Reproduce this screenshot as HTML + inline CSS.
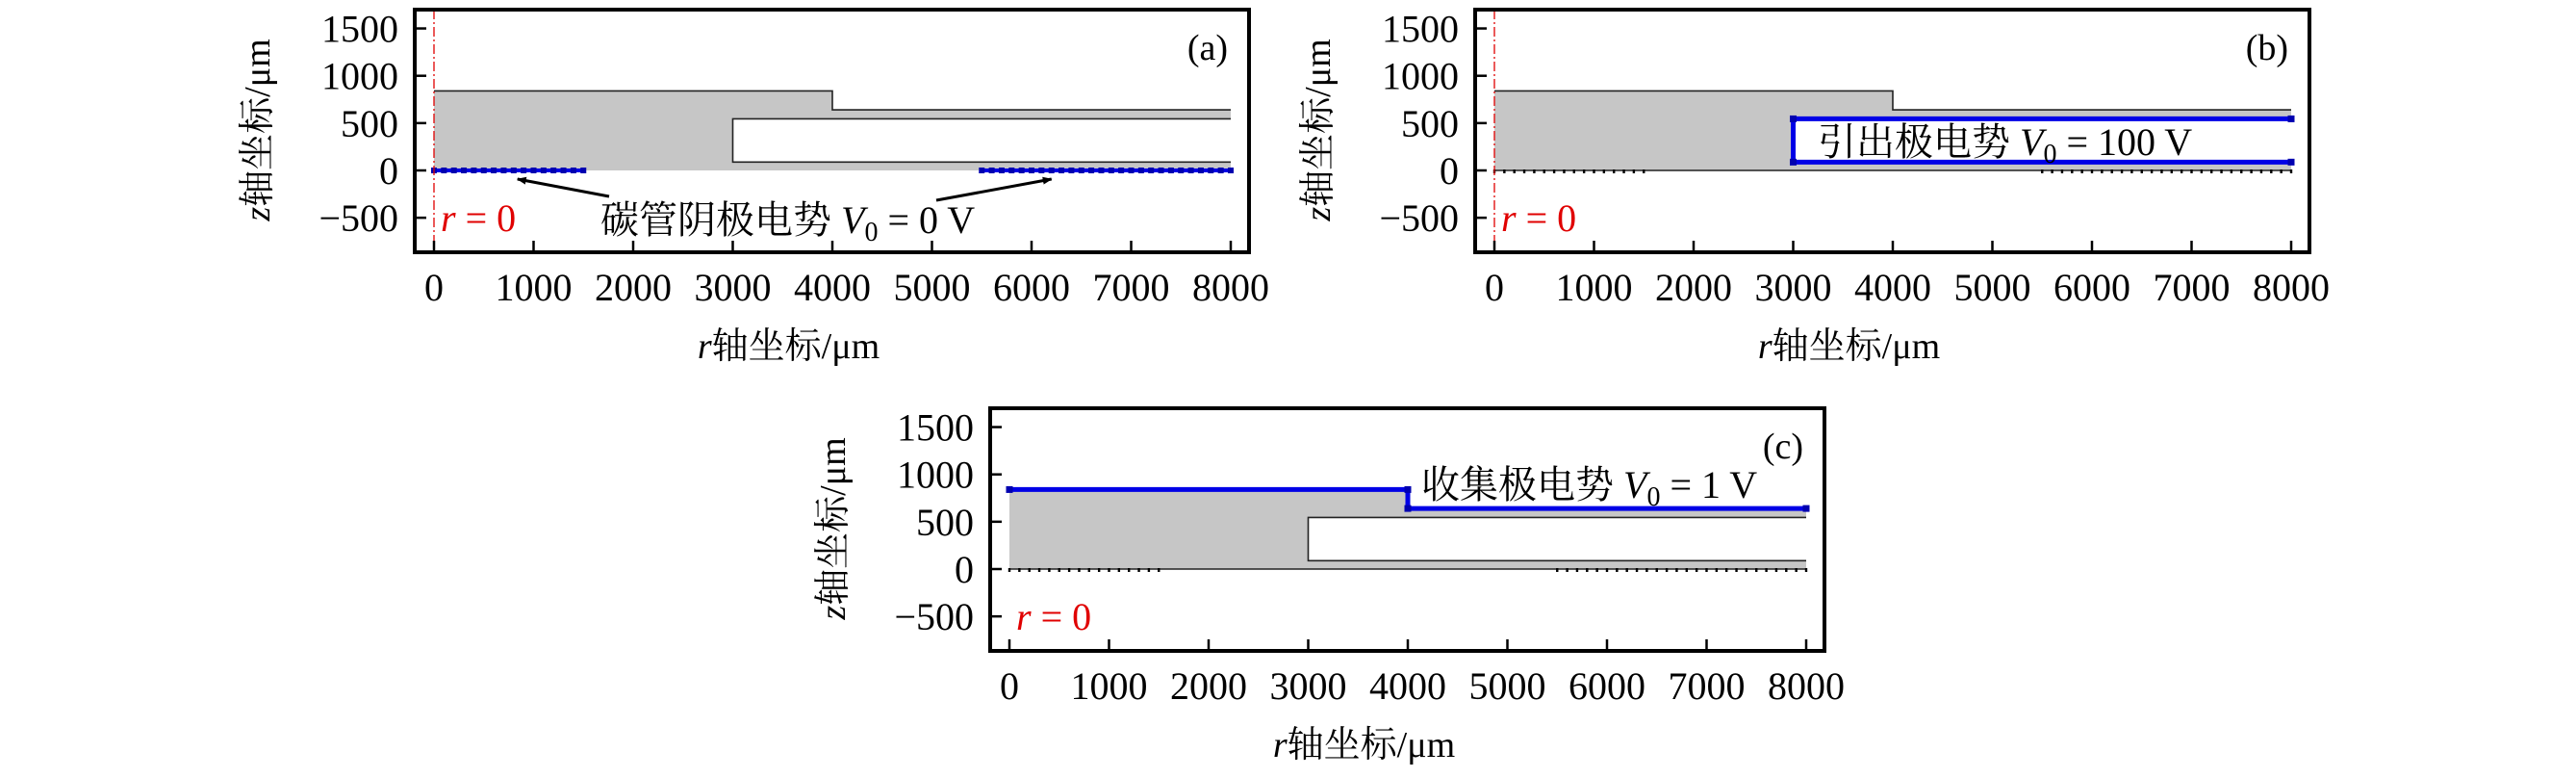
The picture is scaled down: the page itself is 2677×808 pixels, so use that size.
<!DOCTYPE html>
<html><head><meta charset="utf-8"><style>
body{margin:0;background:#fff}
svg text{font-family:"Liberation Serif","Noto Serif CJK SC","Noto Sans CJK SC",serif}
</style></head><body>
<svg id="fig" width="2677" height="803" viewBox="0 0 2677 803" xmlns="http://www.w3.org/2000/svg">
<defs>
<marker id="ah" markerWidth="10" markerHeight="8" refX="9" refY="4" orient="auto" markerUnits="userSpaceOnUse" viewBox="0 0 10 8"><path d="M0,0 L10,4 L0,8 Z" fill="#000"/></marker>
</defs>
</svg>
<script>
// ---- data ----
const xTicks = [0,1000,2000,3000,4000,5000,6000,7000,8000];
const yTicks = [-500,0,500,1000,1500];
const outerR = [0,4000,4000,8000];
const outerZ = [840,840,640,640];
const innerR = [3000,8000];
const innerZ = [88,545];
const cathodeR = [[0,1500],[5500,8000]];
const panelIds = ['a','b','c'];
const panelLeft = [431,1533,1029];
const panelTop = [10,10,424];
const labels = ['碳管阴极电势 ','引出极电势 ','收集极电势 '];
const volts = ['0','100','1'];

const NS='http://www.w3.org/2000/svg';
const svg=document.getElementById('fig');
function mk(tag,attrs,parent){const e=document.createElementNS(NS,tag);for(const k in attrs)e.setAttribute(k,attrs[k]);(parent||svg).appendChild(e);return e;}

panelIds.forEach((id,pi)=>{
  const L=panelLeft[pi],T=panelTop[pi],W=867,H=252;
  const x0=L+20, kx=103.5/1000;
  const y0=T+167, ky=98.3/1000;
  const X=r=>x0+r*kx, Y=z=>y0-z*ky;
  const g=mk('g',{});
  
  

  const d='M'+X(0)+','+Y(0)+' L'+X(0)+','+Y(outerZ[0])+' L'+X(outerR[1])+','+Y(outerZ[1])+' L'+X(outerR[2])+','+Y(outerZ[2])+' L'+X(outerR[3])+','+Y(outerZ[3])+' L'+X(8000)+','+Y(innerZ[1])+' L'+X(innerR[0])+','+Y(innerZ[1])+' L'+X(innerR[0])+','+Y(innerZ[0])+' L'+X(8000)+','+Y(innerZ[0])+' L'+X(8000)+','+Y(0)+' Z';
  const reg=mk('path',{d:d,fill:'#c6c6c6',stroke:'none'},g);
  
  

  let od='M'+X(0)+','+Y(outerZ[0]);
  for(let i=1;i<outerR.length;i++) od+=' L'+X(outerR[i])+','+Y(outerZ[i]);
  const ol=mk('path',{d:od,fill:'none',stroke:'#222','stroke-width':1.6},g);
  
  
  const il=mk('path',{d:'M'+X(innerR[1])+','+Y(innerZ[1])+' L'+X(innerR[0])+','+Y(innerZ[1])+' L'+X(innerR[0])+','+Y(innerZ[0])+' L'+X(innerR[1])+','+Y(innerZ[0]),fill:'none',stroke:'#222','stroke-width':1.6},g);
  
  
  if(id!=='a'){
    const zl=mk('line',{x1:X(0),y1:Y(0),x2:X(8000),y2:Y(0),stroke:'#222','stroke-width':1.6},g);
    
    
  }
  cathodeR.forEach(([a,b])=>{
    if(id==='a'){
      const cl=mk('line',{x1:X(a),y1:Y(0),x2:X(b),y2:Y(0),stroke:'#0000e6','stroke-width':4},g);
      
      
      for(let r=a;r<=b+1;r+=100){mk('rect',{x:X(r)-3,y:Y(0)-3,width:6,height:6,fill:'#0000b0'},g);}
    } else {
      for(let r=a;r<=b+1;r+=100){mk('rect',{x:X(r)-1.2,y:Y(0)-1,width:2.4,height:4,fill:'#000'},g);}
    }
  });
  if(id==='b'){
    const bl=mk('path',{d:'M'+X(8000)+','+Y(innerZ[1])+' L'+X(innerR[0])+','+Y(innerZ[1])+' L'+X(innerR[0])+','+Y(innerZ[0])+' L'+X(8000)+','+Y(innerZ[0]),fill:'none',stroke:'#0000e6','stroke-width':5},g);
    
    
    [[innerR[0],innerZ[1]],[innerR[0],innerZ[0]],[8000,innerZ[1]],[8000,innerZ[0]]].forEach(p=>mk('rect',{x:X(p[0])-3.5,y:Y(p[1])-3.5,width:7,height:7,fill:'#0000b0'},g));
  }
  if(id==='c'){
    let cd='M'+X(0)+','+Y(outerZ[0]);
    for(let i=1;i<outerR.length;i++) cd+=' L'+X(outerR[i])+','+Y(outerZ[i]);
    const cl=mk('path',{d:cd,fill:'none',stroke:'#0000e6','stroke-width':5},g);
    
    
    outerR.forEach((r,i)=>mk('rect',{x:X(r)-3.5,y:Y(outerZ[i])-3.5,width:7,height:7,fill:'#0000b0'},g));
  }
  if(id!=='c'){
    const rl=mk('line',{x1:X(0),y1:T,x2:X(0),y2:T+H,stroke:'#e00000','stroke-width':1.3,'stroke-dasharray':'10,3,2,3'},g);
    
    
  }
  const rt=mk('text',{x:X(0)+7,y:Y(-500)+14,'font-size':40,fill:'#e00000'},g);
  
  
  rt.innerHTML='<tspan font-style="italic">r</tspan> = 0';

  const fr=mk('rect',{x:L,y:T,width:W,height:H,fill:'none',stroke:'#000','stroke-width':4},g);
  
  
  xTicks.forEach(v=>{
    mk('line',{x1:X(v),y1:T+H,x2:X(v),y2:T+H-12,stroke:'#000','stroke-width':2.5},g);
    const t=mk('text',{x:X(v),y:T+H+50,'font-size':40,'text-anchor':'middle'},g);
    
    
    t.textContent=v;
  });
  yTicks.forEach(v=>{
    mk('line',{x1:L,y1:Y(v),x2:L+12,y2:Y(v),stroke:'#000','stroke-width':2.5},g);
    const t=mk('text',{x:L-17,y:Y(v)+14,'font-size':40,'text-anchor':'end'},g);
    
    
    t.textContent=v<0?'−'+(-v):v;
  });
  const xt=mk('text',{x:L+W/2-45,y:T+H+110,'font-size':38,'text-anchor':'middle'},g);
  
  
  xt.innerHTML='<tspan font-style="italic">r</tspan>轴坐标/μm';
  const yt=mk('text',{x:0,y:0,'font-size':38,'text-anchor':'middle',transform:'translate('+(L-151)+','+(T+125)+') rotate(-90)'},g);
  
  
  yt.innerHTML='<tspan font-style="italic">z</tspan>轴坐标/μm';
  const pl=mk('text',{x:L+W-22,y:T+52,'font-size':38,'text-anchor':'end'},g);
  
  
  pl.textContent='('+id+')';
  const ax=[L+193,L+356,L+448][pi], ay=[T+232,T+151,T+93][pi];
  const an=mk('text',{x:ax,y:ay,'font-size':40},g);
  
  
  an.innerHTML=labels[pi]+'<tspan font-style="italic">V</tspan><tspan font-size="28" dy="8">0</tspan><tspan dy="-8"> = '+volts[pi]+' V</tspan>';
  if(id==='a'){
    const a1=mk('line',{x1:633,y1:204,x2:X(800)+4,y2:186,stroke:'#000','stroke-width':3,'marker-end':'url(#ah)'},g);
    
    
    const a2=mk('line',{x1:973,y1:208,x2:X(6200),y2:186,stroke:'#000','stroke-width':3,'marker-end':'url(#ah)'},g);
    
    
  }
});
</script>
</body></html>
